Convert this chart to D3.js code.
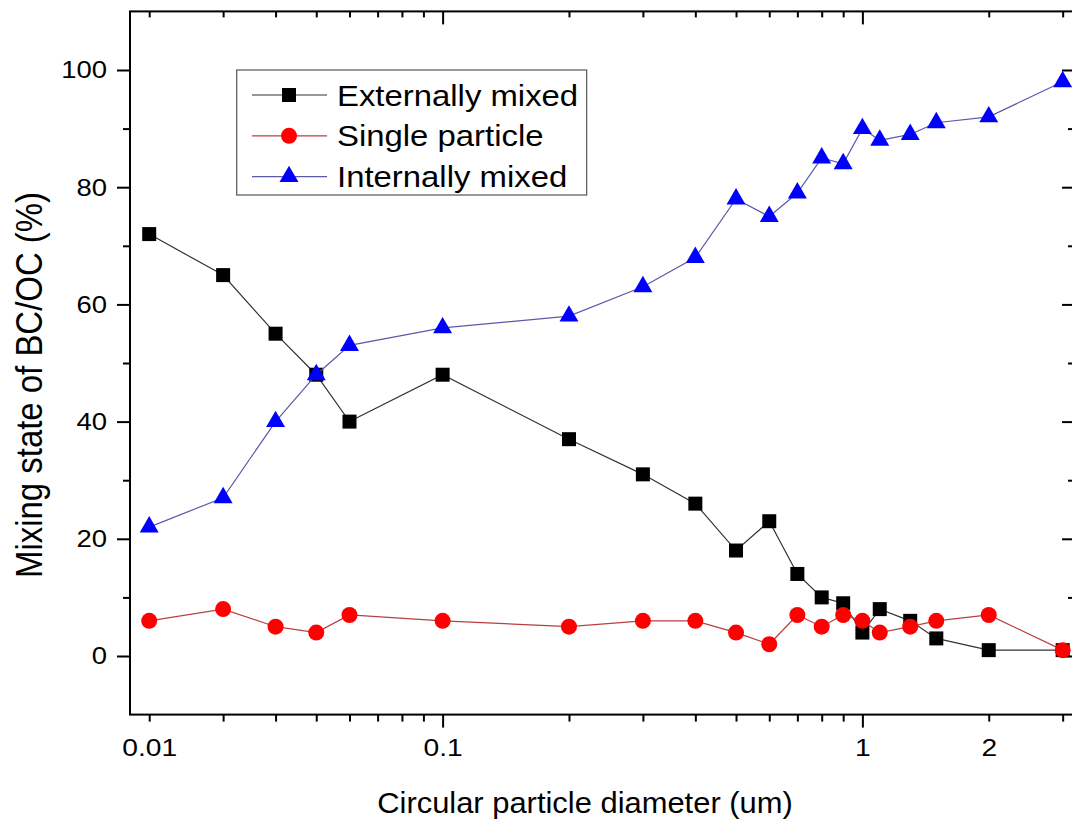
<!DOCTYPE html>
<html>
<head>
<meta charset="utf-8">
<script src="https://cdn.jsdelivr.net/npm/d3@7"></script>
<style>
  body { margin: 0; background: #fff; }
  svg text { font-family: "Liberation Sans", Arial, sans-serif; fill: #000; }
</style>
</head>
<body>
<div id="chart"></div>
<script>
// diameters (um) where the points sit along the log axis
const diameters = [0.02, 0.03, 0.04, 0.05, 0.06, 0.1, 0.2, 0.3, 0.4, 0.5, 0.6, 0.7, 0.8, 0.9, 1, 1.1, 1.3, 1.5, 2, 3];
const externallyMixed = [72, 65, 55, 48, 40, 48, 37, 31, 26, 18, 23, 14, 10, 9, 4, 8, 6, 3, 1, 1];
const singleParticle = [6, 8, 5, 4, 7, 6, 5, 6, 6, 4, 2, 7, 5, 7, 6, 4, 5, 6, 7, 1];
const internallyMixed = [22, 27, 40, 48, 53, 56, 58, 63, 68, 78, 75, 79, 85, 84, 90, 88, 89, 91, 92, 98];

const seriesNames = ['Externally mixed', 'Single particle', 'Internally mixed'];

// tick labels as printed on the original axis
const xTickValues = [0.02, 0.1, 1, 2];
const xTickLabels = ['0.01', '0.1', '1', '2'];
const xMajorTicks = [0.1, 1];
const xMinorTicks = [0.02, 0.03, 0.04, 0.05, 0.06, 0.07, 0.08, 0.09,
    0.2, 0.3, 0.4, 0.5, 0.6, 0.7, 0.8, 0.9, 2, 3];
const yTickValues = [0, 20, 40, 60, 80, 100];
const yMinorTicks = [10, 30, 50, 70, 90];

const width = 1072;
const height = 821;
const margin = {top: 11.4, right: -3, bottom: 106.4, left: 130};

function mixingChart() {
    let svg;
    let xScale;
    let yScale;
    const chartWidth = width - margin.left - margin.right;
    const chartHeight = height - margin.top - margin.bottom;

    const styles = [
        {symbol: d3.symbolSquare, size: 196, fill: '#000', line: '#333'},
        {symbol: d3.symbolCircle, size: 201, fill: '#ff0000', line: '#b84040'},
        {symbol: d3.symbolTriangle, size: 156, fill: '#0000ff', line: '#5a5aa8'}
    ];
    const series = [externallyMixed, singleParticle, internallyMixed];

    function build() {
        svg = d3.select('#chart')
          .append('svg')
            .attr('width', width)
            .attr('height', height);

        xScale = d3.scaleLog()
            .domain([0.018, 3.21])
            .range([margin.left, margin.left + chartWidth]);

        yScale = d3.scaleLinear()
            .domain([-10, 110])
            .range([margin.top + chartHeight, margin.top]);

        drawAxes();
        drawSeries();
        drawLegend();
        drawTitles();
    }

    // widen text the way the original (slightly stretched) figure shows it
    function stretch(selection, k) {
        selection.each(function() {
            const len = this.getComputedTextLength();
            d3.select(this)
                .attr('textLength', len * k)
                .attr('lengthAdjust', 'spacingAndGlyphs');
        });
    }

    function tickGroup(axis, transform) {
        const g = svg.append('g')
            .attr('transform', transform)
            .call(axis);
        g.select('.domain').remove();
        g.selectAll('line').attr('stroke', '#000').attr('stroke-width', 2);
        return g;
    }

    function drawAxes() {
        const bottom = yScale(-10);
        const top = yScale(110);
        const left = xScale.range()[0];
        const right = xScale.range()[1];

        // bottom: outward ticks, top: inward ticks
        tickGroup(d3.axisBottom(xScale).tickValues(xMinorTicks).tickSize(7).tickFormat(''), `translate(0,${bottom})`);
        tickGroup(d3.axisBottom(xScale).tickValues(xMajorTicks).tickSize(13).tickFormat(''), `translate(0,${bottom})`);
        tickGroup(d3.axisBottom(xScale).tickValues(xMinorTicks).tickSize(6).tickFormat(''), `translate(0,${top})`);
        tickGroup(d3.axisBottom(xScale).tickValues(xMajorTicks).tickSize(13).tickFormat(''), `translate(0,${top})`);

        // left: outward ticks, right: inward ticks
        tickGroup(d3.axisLeft(yScale).tickValues(yMinorTicks).tickSize(7).tickFormat(''), `translate(${left},0)`);
        tickGroup(d3.axisLeft(yScale).tickValues(yTickValues).tickSize(13).tickFormat(''), `translate(${left},0)`);
        tickGroup(d3.axisLeft(yScale).tickValues(yMinorTicks).tickSize(7).tickFormat(''), `translate(${right},0)`);
        tickGroup(d3.axisLeft(yScale).tickValues(yTickValues).tickSize(13).tickFormat(''), `translate(${right},0)`);

        const xLabels = tickGroup(
            d3.axisBottom(xScale).tickValues(xTickValues).tickSize(0).tickPadding(24)
                .tickFormat((d, i) => xTickLabels[i]),
            `translate(0,${bottom})`);
        xLabels.attr('font-size', null).attr('font-family', null);
        xLabels.selectAll('text').style('font-size', '24.5px').call(stretch, 1.15);

        const yLabels = tickGroup(
            d3.axisLeft(yScale).tickValues(yTickValues).tickSize(0).tickPadding(23),
            `translate(${left},0)`);
        yLabels.attr('font-size', null).attr('font-family', null);
        yLabels.selectAll('text').style('font-size', '24.5px').call(stretch, 1.12);

        svg.append('rect')
            .attr('x', left)
            .attr('y', top)
            .attr('width', right - left)
            .attr('height', bottom - top)
            .attr('fill', 'none')
            .attr('stroke', '#000')
            .attr('stroke-width', 2);
    }

    function drawSeries() {
        const line = d3.line()
            .x(d => xScale(d[0]))
            .y(d => yScale(d[1]));

        series.forEach((values, i) => {
            const pts = diameters.map((d, j) => [d, values[j]]);
            const g = svg.append('g').classed('series', true);

            g.append('path')
                .datum(pts)
                .attr('d', line)
                .attr('fill', 'none')
                .attr('stroke', styles[i].line)
                .attr('stroke-width', 1.2);

            g.selectAll('.marker')
                .data(pts)
              .enter()
              .append('path')
                .classed('marker', true)
                .attr('transform', d => `translate(${xScale(d[0])},${yScale(d[1])})`)
                .attr('d', d3.symbol(styles[i].symbol, styles[i].size))
                .attr('fill', styles[i].fill);
        });
    }

    function drawLegend() {
        const legend = svg.append('g').classed('legend', true);

        legend.append('rect')
            .attr('x', 236.7)
            .attr('y', 70)
            .attr('width', 350)
            .attr('height', 125)
            .attr('fill', '#fff')
            .attr('stroke', '#555')
            .attr('stroke-width', 1.2);

        const rows = legend.selectAll('.row')
            .data(seriesNames)
          .enter()
          .append('g')
            .classed('row', true)
            .attr('transform', (d, i) => `translate(0,${95 + i * 40.8})`);

        rows.append('line')
            .attr('x1', 252)
            .attr('x2', 327)
            .attr('stroke', (d, i) => styles[i].line)
            .attr('stroke-width', 1.2);

        rows.append('path')
            .attr('transform', 'translate(289,0)')
            .attr('d', (d, i) => d3.symbol(styles[i].symbol, styles[i].size)())
            .attr('fill', (d, i) => styles[i].fill);

        rows.append('text')
            .attr('x', 337)
            .attr('y', 10.5)
            .style('font-size', '30.3px')
            .text(d => d)
            .call(stretch, 1.085);
    }

    function drawTitles() {
        svg.append('text')
            .attr('x', 585)
            .attr('y', 813)
            .attr('text-anchor', 'middle')
            .style('font-size', '30.3px')
            .text('Circular particle diameter (um)')
            .call(stretch, 1.02);

        svg.append('text')
            .attr('transform', 'translate(41.7,385) scale(1.13,1) rotate(-90)')
            .attr('text-anchor', 'middle')
            .style('font-size', '33px')
            .attr('textLength', 386)
            .attr('lengthAdjust', 'spacingAndGlyphs')
            .text('Mixing state of BC/OC (%)');
    }

    build();
}

mixingChart();
</script>
</body>
</html>
